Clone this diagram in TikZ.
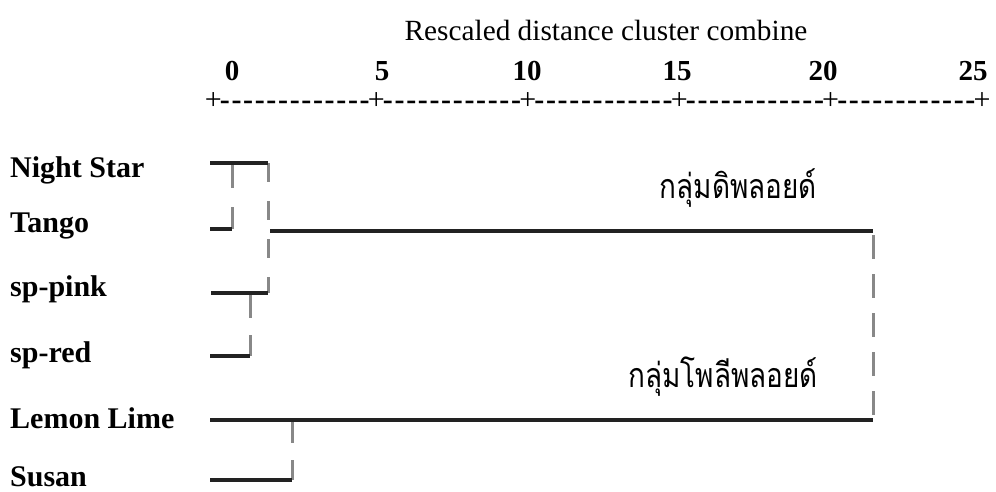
\documentclass[tikz,border=0pt]{standalone}
\usepackage{fontspec}
\setmainfont{Liberation Serif}
\newfontfamily\thaifont[Script=Thai]{Loma}
\definecolor{inkblack}{HTML}{222222}
\definecolor{linkgray}{HTML}{888888}
\newcommand\chcell[1]{\makebox[11.65pt]{#1}}
\newcommand\hyph[1]{\foreach \k in {1,...,#1}{\chcell{\bfseries -}}}
\begin{document}
\begin{tikzpicture}[x=1pt,y=-1pt,
  lab/.style={font=\fontsize{30}{32}\selectfont\bfseries, anchor=base west, inner sep=0pt},
  num/.style={font=\fontsize{29}{32}\selectfont\bfseries, anchor=base, inner sep=0pt},
  grp/.style={font=\thaifont\fontsize{34}{36}\selectfont, anchor=base east, inner sep=0pt},
  hline/.style={draw=inkblack, line width=3.3pt},
  vlink/.style={draw=linkgray, line width=3pt, dash pattern=#1},
]
\useasboundingbox (0,0) rectangle (996,491);
% title and scale
\node[font=\fontsize{29.3}{32}\selectfont, anchor=base, inner sep=0pt] (title) at (606,40) {Rescaled distance cluster combine};
\node[num] (n0) at (232,80) {0};
\node[num] (n5) at (382,80) {5};
\node[num] (n10) at (527,80) {10};
\node[num] (n15) at (677,80) {15};
\node[num] (n20) at (823,80) {20};
\node[num] (n25) at (973,80) {25};
\node[font=\fontsize{30}{32}\selectfont, anchor=base west, inner sep=0pt] (scale) at (207.2,109.5)
  {\chcell{+}\hyph{13}\chcell{+}\hyph{12}\chcell{+}\hyph{12}\chcell{+}\hyph{12}\chcell{+}\hyph{12}\chcell{+}};
% labels
\node[lab] (ns) at (10,177) {Night Star};
\node[lab] (ta) at (10,232) {Tango};
\node[lab] (sp) at (10,296) {sp-pink};
\node[lab] (sr) at (10,362) {sp-red};
\node[lab] (ll) at (10,428) {Lemon Lime};
\node[lab] (su) at (10,486) {Susan};
% group labels
\node[grp] (dip) at (817,198) {\scalebox{0.82}[1]{กลุ่มดิพลอยด์}};
\node[grp] (pol) at (818,387) {\scalebox{0.82}[1]{กลุ่มโพลีพลอยด์}};
% coordinates
\coordinate (a1) at (210,163); \coordinate (a2) at (268,163);
\coordinate (b1) at (210,229); \coordinate (b2) at (232,229);
\coordinate (a3) at (232,163);
\coordinate (c1) at (211,293); \coordinate (c2) at (268,293);
\coordinate (d1) at (210,356); \coordinate (d2) at (250,356);
\coordinate (c3) at (250,293);
\coordinate (m1) at (270,231); \coordinate (m2) at (873,231);
\coordinate (m3) at (873,235);
\coordinate (e1) at (210,420); \coordinate (e2) at (873,420);
\coordinate (f1) at (210,480); \coordinate (f2) at (292,480);
\coordinate (e3) at (292,420);
% vertical links
\draw[vlink={on 25pt off 19pt}] (a3) -- (b2);
\draw[vlink={on 19pt off 19pt}] (a2) -- (c2);
\draw[vlink={on 25pt off 17pt}] (c3) -- (d2);
\draw[vlink={on 24pt off 15pt}] (m3) -- (e2);
\draw[vlink={on 23pt off 17pt}] (e3) -- (f2);
% horizontal lines
\draw[hline] (a1) -- (a2);
\draw[hline] (b1) -- (b2);
\draw[hline] (c1) -- (c2);
\draw[hline] (d1) -- (d2);
\draw[hline] (m1) -- (m2);
\draw[hline] (e1) -- (e2);
\draw[hline] (f1) -- (f2);
\end{tikzpicture}
\end{document}
